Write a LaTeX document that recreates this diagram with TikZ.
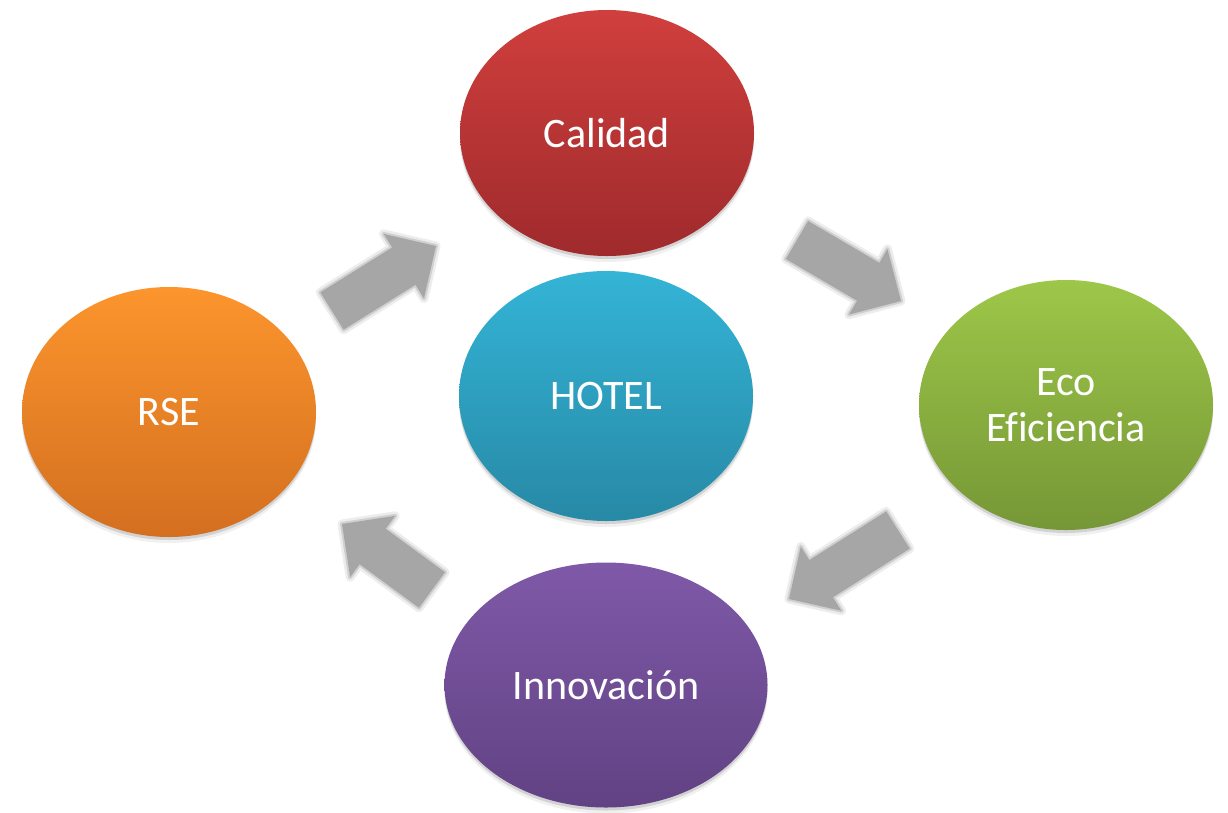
\documentclass[tikz,border=0pt]{standalone}
\usepackage{fontspec}
\setmainfont{Carlito}[Ligatures=NoCommon]
\usetikzlibrary{shapes.geometric,calc,shadows}
\definecolor{calTop}{RGB}{208,63,61}
\definecolor{calBot}{RGB}{159,42,44}
\definecolor{hotTop}{RGB}{52,180,214}
\definecolor{hotBot}{RGB}{39,137,166}
\definecolor{ecoTop}{RGB}{157,199,73}
\definecolor{ecoBot}{RGB}{118,151,54}
\definecolor{rseTop}{RGB}{252,149,45}
\definecolor{rseBot}{RGB}{211,111,32}
\definecolor{innTop}{RGB}{127,89,168}
\definecolor{innBot}{RGB}{97,66,131}
\definecolor{arrowgray}{RGB}{166,166,166}
\tikzset{
  bubble/.style={ellipse, minimum width=294pt, minimum height=248pt, inner sep=0pt,
    text=white, font=\fontsize{42}{46}\selectfont, align=center,
    general shadow={shadow yshift=-3pt, opacity=.12, fill=black},
    general shadow={shadow yshift=-6pt, opacity=.06, fill=black}},
  blockarrow/.style={fill=arrowgray, line join=round,
    preaction={draw=arrowgray, opacity=.2, line width=9pt, line join=round},
    preaction={draw=arrowgray, opacity=.4, line width=4pt, line join=round}},
}
\newcommand\grayarrow[2]{%
  \coordinate (#1h) at ($(#2)!38pt!(#1)$);
  \path[blockarrow]
    ($(#1)!22pt!90:(#2)$) -- ($(#1h)!22pt!90:(#2)$) -- ($(#1h)!38pt!90:(#2)$)
    -- (#2) -- ($(#1h)!38pt!-90:(#2)$) -- ($(#1h)!22pt!-90:(#2)$)
    -- ($(#1)!22pt!-90:(#2)$) -- cycle;
}
\begin{document}
\begin{tikzpicture}[x=1pt,y=-1pt]
\useasboundingbox[fill=white] (0,0) rectangle (1228,812);
% block arrows
\coordinate (a1t) at (332,311); \coordinate (a1p) at (436,246);
\coordinate (a2t) at (797,240); \coordinate (a2p) at (901,301);
\coordinate (a3t) at (898,530); \coordinate (a3p) at (789,599);
\coordinate (a4t) at (432,590); \coordinate (a4p) at (342,524);
\grayarrow{a1t}{a1p}
\grayarrow{a2t}{a2p}
\grayarrow{a3t}{a3p}
\grayarrow{a4t}{a4p}
% ellipses
\node[bubble, top color=calTop, bottom color=calBot, minimum height=246pt] (cal) at (607,133) {Calidad};
\node[bubble, top color=hotTop, bottom color=hotBot, minimum height=250pt] (hot) at (606,396) {HOTEL};
\node[bubble, top color=ecoTop, bottom color=ecoBot, minimum height=250pt] (eco) at (1066,405) {Eco\\Eficiencia};
\node[bubble, top color=rseTop, bottom color=rseBot, minimum height=250pt] (rse) at (169,412) {RSE};
\node[bubble, top color=innTop, bottom color=innBot, minimum width=323pt, minimum height=245pt] (inn) at (606,685) {Innovación};
\end{tikzpicture}
\end{document}
